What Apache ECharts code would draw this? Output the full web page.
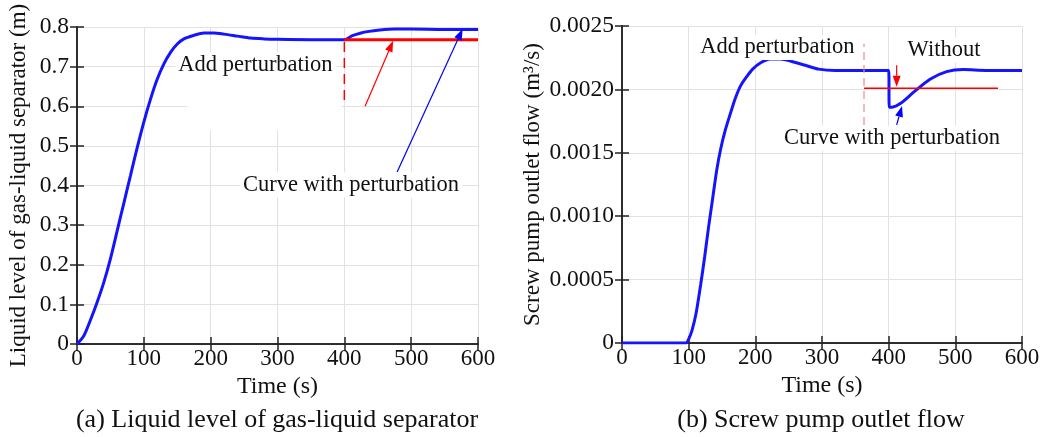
<!DOCTYPE html>
<html>
<head>
<meta charset="utf-8">
<script src="https://cdn.jsdelivr.net/npm/echarts@6/dist/echarts.min.js"></script>
<style>
  html, body { margin: 0; padding: 0; background: #fff; }
  #chart { width: 1046px; height: 437px; }
</style>
</head>
<body>
<div id="chart"></div>
<script>
// (a) liquid level of gas-liquid separator
const timeA = [0, 10, 20, 30, 40, 50, 60, 70, 80, 90, 100, 110, 120, 130, 140, 150, 160, 175, 190, 205, 220, 240, 260, 280, 300, 350, 400, 412, 425, 437, 450, 475, 500, 550, 600]
const levelA = [0, 0.02, 0.06, 0.105, 0.155, 0.215, 0.285, 0.355, 0.425, 0.495, 0.56, 0.618, 0.668, 0.707, 0.736, 0.757, 0.77, 0.779, 0.785, 0.785, 0.782, 0.777, 0.772, 0.77, 0.769, 0.768, 0.768, 0.778, 0.785, 0.789, 0.792, 0.795, 0.795, 0.794, 0.794]
const withoutTimeA = [400, 600]
const withoutLevelA = [0.768, 0.768]
const dashTimeA = [400, 400]
const dashLevelA = [0.616, 0.768]

// (b) screw pump outlet flow
const timeB = [0, 96, 100, 105, 111, 118, 124, 130, 136, 142, 148, 155, 162, 170, 178, 187, 196, 208, 222, 238, 255, 275, 295, 320, 360, 400, 401, 405, 418, 438, 462, 487, 512, 546, 600]
const flowB = [0, 0, 0.00003, 0.0001, 0.00023, 0.00046, 0.00068, 0.00092, 0.00114, 0.00136, 0.00153, 0.00168, 0.0018, 0.00193, 0.00203, 0.0021, 0.00216, 0.00221, 0.00224, 0.00224, 0.00222, 0.00219, 0.00216, 0.00215, 0.00215, 0.00215, 0.00186, 0.00186, 0.00189, 0.00198, 0.00208, 0.00214, 0.002156, 0.00215, 0.00215]
const withoutTimeB = [363, 564]
const withoutFlowB = [0.00201, 0.00201]
const dashTimeB = [363, 363]
const dashFlowB = [0.00172, 0.00236]

// annotations, in data coordinates
const textsA = [
    { text: 'Add perturbation', t: 267, v: 0.705 },
    { text: 'Curve with perturbation', t: 410, v: 0.401 }
]
const textsB = [
    { text: 'Add perturbation', t: 233, v: 0.00233 },
    { text: 'Without', t: 483, v: 0.00231 },
    { text: 'Curve with perturbation', t: 405, v: 0.001614 }
]
const arrowsA = [
    { from: [431, 0.6], to: [473, 0.765], color: '#ff0000' },
    { from: [479, 0.434], to: [577, 0.795], color: '#0000ff' }
]
const arrowsB = [
    { from: [412, 0.00219], to: [412, 0.00202], color: '#ff0000' },
    { from: [412, 0.00172], to: [420, 0.00187], color: '#0000ff' }
]
// white patch over the grid in (a)
const patchA = { t0: 165, t1: 396, v0: 0.686, v1: 0.54 }

const FONT = '"Liberation Serif", "Times New Roman", serif'
const zip = (xs, ys) => xs.map((x, i) => [x, ys[i]])

const chart = echarts.init(document.getElementById('chart'))

const tickStyle = { inside: true, length: 7, lineStyle: { color: '#222', width: 1.5 } }
const lineStyle = { lineStyle: { color: '#222', width: 1.5 } }

function xAxes(gridIndex) {
    return [
        {
            gridIndex, type: 'value', min: 0, max: 600, interval: 100,
            name: 'Time (s)', nameLocation: 'middle', nameGap: 25,
            nameTextStyle: { fontFamily: FONT, fontSize: 24, color: '#111' },
            axisLine: lineStyle,
            axisTick: tickStyle,
            axisLabel: { fontFamily: FONT, fontSize: 23, color: '#111', margin: 3 },
            splitLine: { show: true, lineStyle: { color: '#e2e2e2', width: 1 } }
        },
        {
            gridIndex, type: 'value', min: 0, max: 600, interval: 100, position: 'top',
            axisLine: lineStyle,
            axisTick: tickStyle,
            axisLabel: { show: false },
            splitLine: { show: false }
        }
    ]
}

function yAxes(gridIndex, max, interval, name, nameGap, fmt) {
    return [
        {
            gridIndex, type: 'value', min: 0, max, interval,
            name, nameLocation: 'middle', nameGap,
            nameTextStyle: { fontFamily: FONT, fontSize: 23, color: '#111' },
            axisLine: lineStyle,
            axisTick: tickStyle,
            axisLabel: { fontFamily: FONT, fontSize: 23.5, color: '#111', margin: 8, formatter: fmt },
            splitLine: { show: true, lineStyle: { color: '#e2e2e2', width: 1 } }
        },
        {
            gridIndex, type: 'value', min: 0, max, interval, position: 'right',
            axisLine: lineStyle,
            axisTick: tickStyle,
            axisLabel: { show: false },
            splitLine: { show: false }
        }
    ]
}

function lineSeries(xi, yi, data, color, width, extra) {
    return Object.assign({
        type: 'line', xAxisIndex: xi, yAxisIndex: yi, data,
        showSymbol: false, symbol: 'none', animation: false,
        lineStyle: { color, width }, z: 3
    }, extra || {})
}

chart.setOption({
    animation: false,
    backgroundColor: '#fff',
    grid: [
        { left: 77, top: 27, width: 401, height: 317 },
        { left: 622, top: 26, width: 400, height: 317 }
    ],
    xAxis: [...xAxes(0), ...xAxes(1)],
    yAxis: [
        ...yAxes(0, 0.8, 0.1, 'Liquid level of gas-liquid separator (m)', 47, v => v === 0 ? '0' : v.toFixed(1)),
        ...yAxes(1, 0.0025, 0.0005, 'Screw pump outlet flow (m³/s)', 78, v => v === 0 ? '0' : v.toFixed(4))
    ],
    series: [
        lineSeries(0, 0, zip(timeA, levelA), '#1414ff', 3, { smooth: 0.3 }),
        lineSeries(0, 0, zip(withoutTimeA, withoutLevelA), '#ff0000', 3, { z: 4 }),
        lineSeries(0, 0, zip(dashTimeA, dashLevelA), '#ff0000', 1.5, { lineStyle: { color: '#ff0000', width: 1.5, type: [10, 6] } }),
        lineSeries(2, 2, zip(timeB, flowB), '#1414ff', 3, { smooth: 0.25 }),
        lineSeries(2, 2, zip(withoutTimeB, withoutFlowB), '#ff0000', 1.5, { z: 4 }),
        lineSeries(2, 2, zip(dashTimeB, dashFlowB), '#f08a8a', 1.2, { lineStyle: { color: '#f08a8a', width: 1.2, type: [8, 5] } })
    ]
})

function px(gridIndex, t, v) {
    return chart.convertToPixel({ xAxisIndex: gridIndex * 2, yAxisIndex: gridIndex * 2 }, [t, v])
}

function arrowEls(gridIndex, arrows) {
    const els = []
    arrows.forEach(a => {
        const p0 = px(gridIndex, a.from[0], a.from[1])
        const p1 = px(gridIndex, a.to[0], a.to[1])
        const ang = Math.atan2(p1[1] - p0[1], p1[0] - p0[0])
        const L = 11, W = 4
        const bx = p1[0] - L * Math.cos(ang), by = p1[1] - L * Math.sin(ang)
        els.push({
            type: 'line', z: 50,
            shape: { x1: p0[0], y1: p0[1], x2: bx, y2: by },
            style: { stroke: a.color, lineWidth: 1.2 }
        })
        els.push({
            type: 'polygon', z: 50,
            shape: { points: [
                [p1[0], p1[1]],
                [bx + W * Math.sin(ang), by - W * Math.cos(ang)],
                [bx - W * Math.sin(ang), by + W * Math.cos(ang)]
            ] },
            style: { fill: a.color }
        })
    })
    return els
}

function textEls(gridIndex, texts) {
    return texts.map(o => {
        const p = px(gridIndex, o.t, o.v)
        return {
            type: 'text', z: 40, x: p[0], y: p[1],
            style: {
                text: o.text, fontFamily: FONT, fontSize: 22.5, fill: '#111',
                align: 'center', verticalAlign: 'middle',
                backgroundColor: '#fff', padding: [1, 3]
            }
        }
    })
}

const pa = px(0, patchA.t0, patchA.v0)
const pb = px(0, patchA.t1, patchA.v1)

chart.setOption({
    graphic: [
        {
            type: 'rect', z: 1,
            shape: { x: pa[0], y: pa[1], width: pb[0] - pa[0], height: pb[1] - pa[1] },
            style: { fill: '#fff' }
        },
        ...textEls(0, textsA),
        ...textEls(1, textsB),
        ...arrowEls(0, arrowsA),
        ...arrowEls(1, arrowsB),
        {
            type: 'text', x: 277, y: 420, z: 40,
            style: { text: '(a) Liquid level of gas-liquid separator', fontFamily: FONT, fontSize: 26, fill: '#111', align: 'center', verticalAlign: 'middle' }
        },
        {
            type: 'text', x: 821, y: 420, z: 40,
            style: { text: '(b) Screw pump outlet flow', fontFamily: FONT, fontSize: 26, fill: '#111', align: 'center', verticalAlign: 'middle' }
        }
    ]
})

window.addEventListener('resize', () => {
    chart.resize()
})
</script>
</body>
</html>
